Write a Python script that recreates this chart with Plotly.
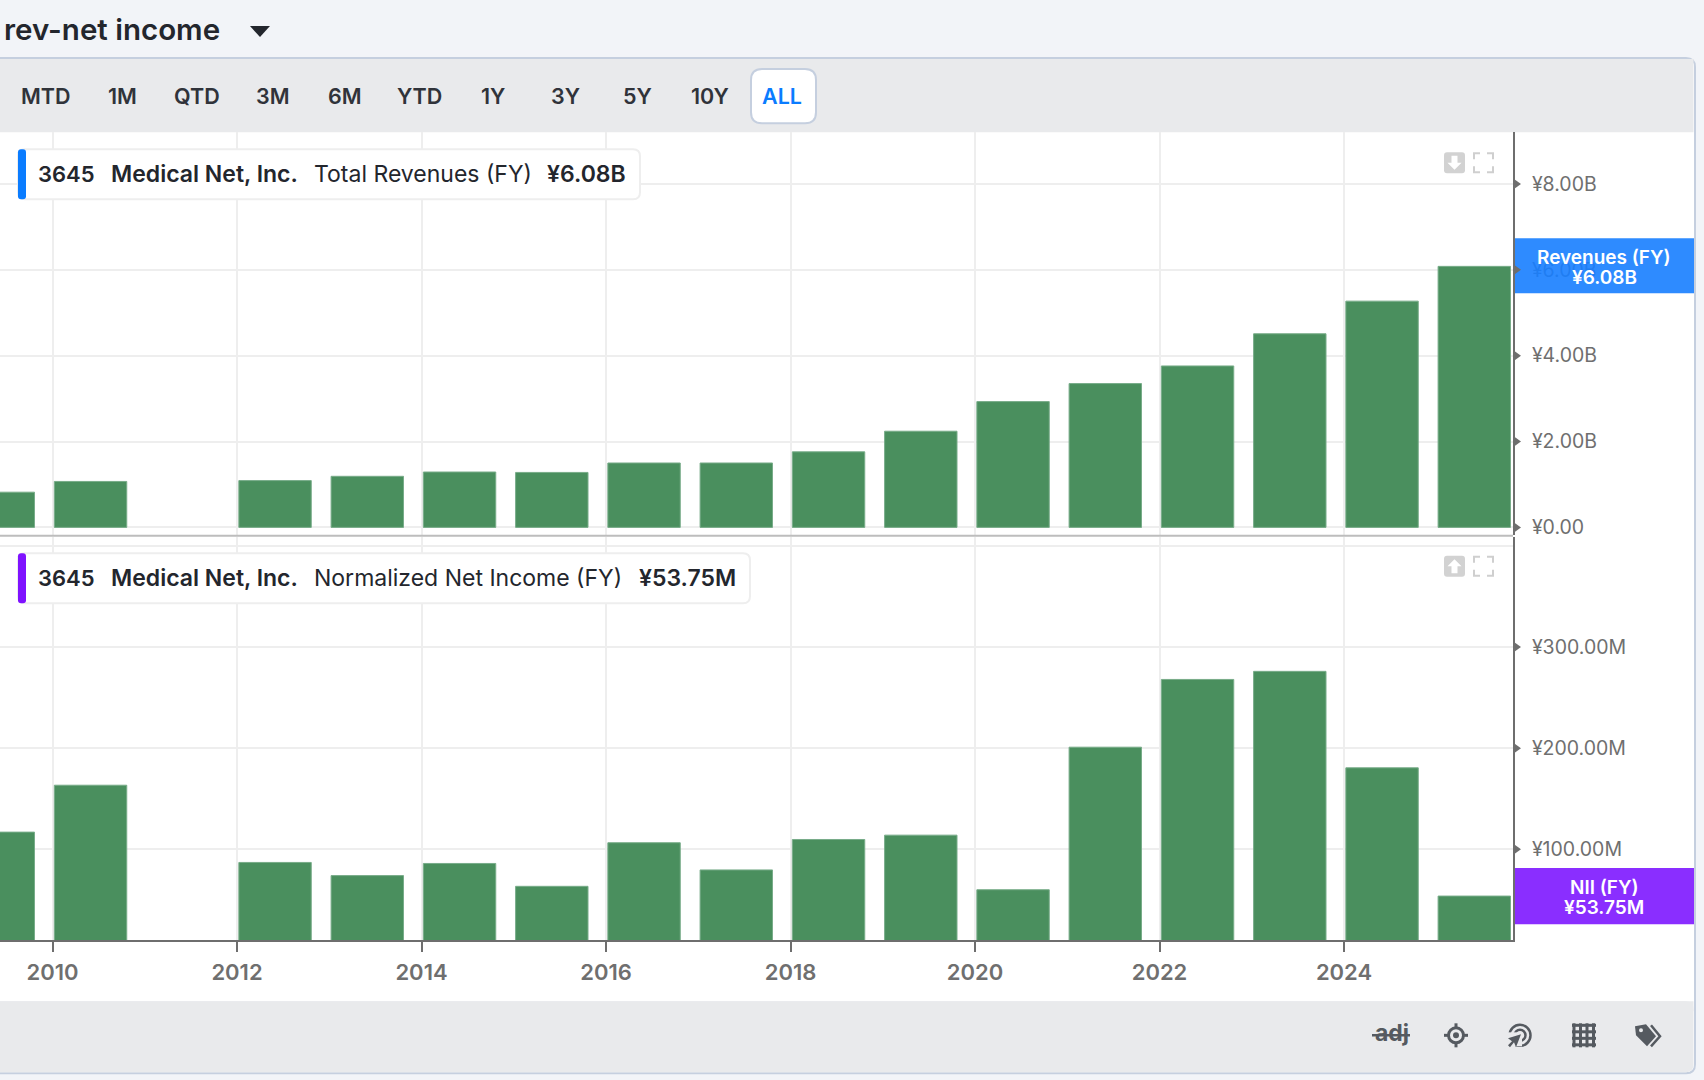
import plotly.graph_objects as go

W, H = 1704, 1080

# ---- data ----
fiscal_years = [2009, 2010, 2012, 2013, 2014, 2015, 2016, 2017, 2018, 2019, 2020, 2021, 2022, 2023, 2024, 2025]
revenues_b = [0.82, 1.07, 1.09, 1.19, 1.29, 1.28, 1.50, 1.50, 1.76, 2.24, 2.93, 3.35, 3.76, 4.51, 5.27, 6.08]
net_income_m = [117, 163.4, 87, 74, 86, 63.4, 106.5, 79.6, 109.7, 114, 60, 201, 268, 276, 180.6, 53.75]
year_ticks = [2010, 2012, 2014, 2016, 2018, 2020, 2022, 2024]
year_labels = ["2010", "2012", "2014", "2016", "2018", "2020", "2022", "2024"]
rev_ticks = [0, 2, 4, 6, 8]
rev_labels = ["¥0.00", "¥2.00B", "¥4.00B", "¥6.00B", "¥8.00B"]
ni_ticks = [100, 200, 300, 400]
ni_labels = ["¥100.00M", "¥200.00M", "¥300.00M", ""]
range_buttons = ["MTD", "1M", "QTD", "3M", "6M", "YTD", "1Y", "3Y", "5Y", "10Y", "ALL"]
button_centers = [46, 122.5, 197, 273, 345, 419, 493, 565, 637, 710, 782]

FONT = "Inter"
BAR = "rgb(74,143,94)"
BAR_EDGE = "rgb(120,172,137)"
GRID = "#eeeeee"
AXIS = "#6e6e6e"
TICKTXT = "#6f6f6f"
DARK = "#23262d"
ICON = "#555a60"
PAGE = "#f2f4f8"
BAND = "#e9eaec"
EDGE = "#c5cfdf"
Y_STRETCH = 1.005


def px(x):
    return x / W


def py(y):
    return 1 - y * Y_STRETCH / H


def path_of(points, close=True):
    s = "M" + " L".join(f"{px(x):.5f},{py(y):.5f}" for x, y in points)
    return s + (" Z" if close else "")


def round_rect(x0, y0, x1, y1, r):
    return (
        f"M{px(x0+r):.5f},{py(y0):.5f} L{px(x1-r):.5f},{py(y0):.5f} Q{px(x1):.5f},{py(y0):.5f} {px(x1):.5f},{py(y0+r):.5f} "
        f"L{px(x1):.5f},{py(y1-r):.5f} Q{px(x1):.5f},{py(y1):.5f} {px(x1-r):.5f},{py(y1):.5f} "
        f"L{px(x0+r):.5f},{py(y1):.5f} Q{px(x0):.5f},{py(y1):.5f} {px(x0):.5f},{py(y1-r):.5f} "
        f"L{px(x0):.5f},{py(y0+r):.5f} Q{px(x0):.5f},{py(y0):.5f} {px(x0+r):.5f},{py(y0):.5f} Z"
    )


shapes = []
annots = []


def sh_path(d, fill=None, line=None, lw=0, layer="below"):
    shapes.append(dict(type="path", xref="paper", yref="paper", path=d, fillcolor=fill or "rgba(0,0,0,0)",
                       line=dict(color=line or "rgba(0,0,0,0)", width=lw), layer=layer))


def sh_rect(x0, y0, x1, y1, fill, layer="below", line=None, lw=0):
    shapes.append(dict(type="rect", xref="paper", yref="paper", x0=px(x0), x1=px(x1), y0=py(y1), y1=py(y0),
                       fillcolor=fill, line=dict(color=line or "rgba(0,0,0,0)", width=lw), layer=layer))


def sh_line(x0, y0, x1, y1, color, lw, layer="above"):
    shapes.append(dict(type="line", xref="paper", yref="paper", x0=px(x0), x1=px(x1), y0=py(y0), y1=py(y1),
                       line=dict(color=color, width=lw), layer=layer))


def sh_circle(cx, cy, r, fill=None, line=None, lw=0, layer="above"):
    shapes.append(dict(type="circle", xref="paper", yref="paper", x0=px(cx - r), x1=px(cx + r), y0=py(cy + r), y1=py(cy - r),
                       fillcolor=fill or "rgba(0,0,0,0)", line=dict(color=line or "rgba(0,0,0,0)", width=lw), layer=layer))


def text(x, y, s, size=22, color=DARK, weight=400, anchor="left"):
    annots.append(dict(xref="paper", yref="paper", x=px(x), y=py(y), text=s, showarrow=False, xanchor=anchor,
                       yanchor="middle", borderpad=0, font=dict(family=FONT, size=size, color=color, weight=weight)))


# ---- page chrome ----
sh_path(round_rect(-10, 58, 1695, 1072, 9), fill="white", line=EDGE, lw=2)
sh_rect(0, 59, 1693.5, 132, BAND)
sh_path(round_rect(-10, 1000, 1693.5, 1071, 8), fill=BAND)
sh_rect(-10, 1000, 1693.5, 1010, BAND)

text(3, 29, "rev-net income", size=29.5, weight=600)
sh_path(path_of([(250, 26), (270, 26), (260, 37)]), fill=DARK, layer="above")

sh_path(round_rect(751, 69, 816, 123, 11), fill="white", line=EDGE, lw=2)
for lab, cx in zip(range_buttons, button_centers):
    is_all = lab == "ALL"
    text(cx, 95.5, lab, size=21.5, weight=600, color="#0a7cff" if is_all else "#30333a", anchor="center")


# ---- legend cards ----
def card(x1, y0, strip, series, value, vx):
    sh_path(round_rect(18, y0, x1, y0 + 50, 7), fill="white", line="#eeeeee", lw=2, layer="above")
    sh_path(round_rect(18, y0, 26, y0 + 50, 3), fill=strip, layer="above")
    cy = y0 + 25
    text(37, cy, "3645", size=22, weight=600)
    text(110, cy, "Medical Net, Inc.", size=23, weight=600)
    text(313, cy, series, size=23, weight=400)
    text(vx, cy, value, size=23, weight=600)


card(640, 149, "#0a7cff", "Total Revenues (FY)", "¥6.08B", 546)
card(750, 552.5, "#7f12ff", "Normalized Net Income (FY)", "¥53.75M", 638)


# ---- panel icons ----
def panel_icons(y0, up):
    sh_path(round_rect(1444, y0, 1465, y0 + 21, 3), fill="#d2d2d2", layer="above")
    cx, cy = 1454.5, y0 + 10.5
    if up:
        pts = [(cx, cy - 7), (cx + 7, cy), (cx + 3, cy), (cx + 3, cy + 7), (cx - 3, cy + 7), (cx - 3, cy), (cx - 7, cy)]
    else:
        pts = [(cx, cy + 7), (cx + 7, cy), (cx + 3, cy), (cx + 3, cy - 7), (cx - 3, cy - 7), (cx - 3, cy), (cx - 7, cy)]
    sh_path(path_of(pts), fill="white", layer="above")
    a, b, c, d = 1474, 1493, y0 + 1, y0 + 20
    for pts in [[(a, c + 6), (a, c), (a + 6, c)], [(b - 6, c), (b, c), (b, c + 6)],
                [(a, d - 6), (a, d), (a + 6, d)], [(b - 6, d), (b, d), (b, d - 6)]]:
        sh_path(path_of(pts, close=False), line="#cfcfcf", lw=2, layer="above")


panel_icons(152, False)
panel_icons(555, True)

# ---- value flags ----
sh_rect(1515, 238, 1694, 293, "rgba(23,126,255,0.9)", layer="above")
text(1604, 257, "Revenues (FY)", size=19, color="white", weight=600, anchor="center")
text(1604, 277, "¥6.08B", size=19, color="white", weight=600, anchor="center")
sh_rect(1515, 867, 1694, 923, "#8a2eff", layer="above")
text(1604, 886.5, "NII (FY)", size=19, color="white", weight=600, anchor="center")
text(1604, 906.5, "¥53.75M", size=19, color="white", weight=600, anchor="center")

# ---- panel divider ----
sh_line(0, 535, 1513, 535, "#bdbdbd", 2)

# ---- toolbar icons ----
text(1392, 1032, "adj", size=23, color=ICON, weight=700, anchor="center")
sh_line(1372, 1034, 1410, 1034, ICON, 2.5)
sh_circle(1456, 1034, 7.5, line=ICON, lw=3)
sh_circle(1456, 1034, 3, fill=ICON)
for a in [(1444, 1034, 1448, 1034), (1464, 1034, 1468, 1034), (1456, 1022, 1456, 1026), (1456, 1042, 1456, 1046)]:
    sh_line(*a, ICON, 3)
sh_circle(1520, 1034, 10.5, line=ICON, lw=2.5)
sh_circle(1520, 1034, 5.5, line=ICON, lw=2.5)
sh_path(path_of([(1508, 1031), (1522, 1031), (1522, 1045), (1508, 1045)]), fill=BAND, layer="above")
sh_path(path_of([(1521, 1033), (1516, 1046), (1514, 1041), (1510, 1046), (1508, 1044), (1512, 1040), (1508, 1037)]), fill=ICON, layer="above")
for i in range(4):
    x = 1574 + i * 6.5
    y = 1024 + i * 6.5
    sh_line(x, 1022, x, 1046, ICON, 3)
    sh_line(1572, y, 1596, y, ICON, 3)
sh_path(path_of([(1635, 1025), (1646, 1023), (1656, 1035), (1647, 1045), (1636, 1034)]), fill=ICON, layer="above")
sh_circle(1641, 1029, 2, fill=BAND)
sh_path(path_of([(1651, 1024), (1660, 1035), (1651, 1045)], close=False), line=ICON, lw=2.5, layer="above")

# ---- axes geometry ----
PLOT_R = 1513
TOP_A, TOP_B = 132, 534
LOW_A, LOW_B = 536, 939
PX_PER_YEAR = 92.25
LEFT_2010 = 52.5
xr = [2010 - LEFT_2010 / PX_PER_YEAR, 2010 + (PLOT_R - LEFT_2010) / PX_PER_YEAR]
r_top = [-0.17, 9.206]
r_low = [10.1, 409.2]


# small triangular tick pointers placed on the value axes by the library's own y scale
def pointer(yref, value):
    shapes.append(dict(type="path", xref="paper", yref=yref, xsizemode="pixel", ysizemode="pixel", xanchor=px(PLOT_R + 1), yanchor=value,
                       path="M0,-5 L7,0 L0,5 Z", fillcolor=AXIS, line=dict(width=0), layer="above"))


for v in rev_ticks:
    pointer("y", v)
for v, lab in zip(ni_ticks, ni_labels):
    if lab:
        pointer("y2", v)

fig = go.Figure()
fig.add_trace(go.Bar(x=fiscal_years, y=revenues_b, width=0.785, offset=0.02, xaxis="x", yaxis="y",
                     marker=dict(color=BAR, line=dict(color=BAR_EDGE, width=1)), hoverinfo="skip", showlegend=False))
fig.add_trace(go.Bar(x=fiscal_years, y=net_income_m, width=0.785, offset=0.02, xaxis="x2", yaxis="y2",
                     marker=dict(color=BAR, line=dict(color=BAR_EDGE, width=1)), hoverinfo="skip", showlegend=False))

common_x = dict(range=xr, domain=[0, px(PLOT_R)], tickvals=year_ticks, showgrid=True, gridcolor=GRID, gridwidth=2, zeroline=False)
common_y = dict(side="right", showgrid=True, gridcolor=GRID, gridwidth=2, zeroline=False, showline=True, linecolor=AXIS,
                linewidth=2, ticks="", ticklabelstandoff=13, tickfont=dict(family=FONT, size=19.5, color=TICKTXT, weight=400))

fig.update_layout(
    width=W, height=H, margin=dict(l=0, r=0, t=0, b=0), autosize=False,
    paper_bgcolor=PAGE, plot_bgcolor="rgba(0,0,0,0)", barmode="overlay", showlegend=False,
    xaxis=dict(**common_x, anchor="y", showticklabels=False, ticks=""),
    xaxis2=dict(**common_x, anchor="y2", ticktext=year_labels, ticks="outside", ticklen=10, tickwidth=2, tickcolor=AXIS,
                showline=True, linecolor=AXIS, linewidth=2, ticklabelstandoff=1,
                tickfont=dict(family=FONT, size=22, color=TICKTXT, weight=600)),
    yaxis=dict(**common_y, domain=[py(TOP_B), py(TOP_A)], range=r_top, tickvals=rev_ticks, ticktext=rev_labels, anchor="x"),
    yaxis2=dict(**common_y, domain=[py(LOW_B), py(LOW_A)], range=r_low, tickvals=ni_ticks, ticktext=ni_labels, anchor="x2"),
    shapes=shapes, annotations=annots,
)

fig.write_html("out.html", config={"displayModeBar": False}, default_width=W, default_height=H,
               post_script="document.documentElement.style.overflow='hidden';document.body.style.margin='0';"
                           "document.body.style.height='1080px';document.body.style.overflow='hidden';")
